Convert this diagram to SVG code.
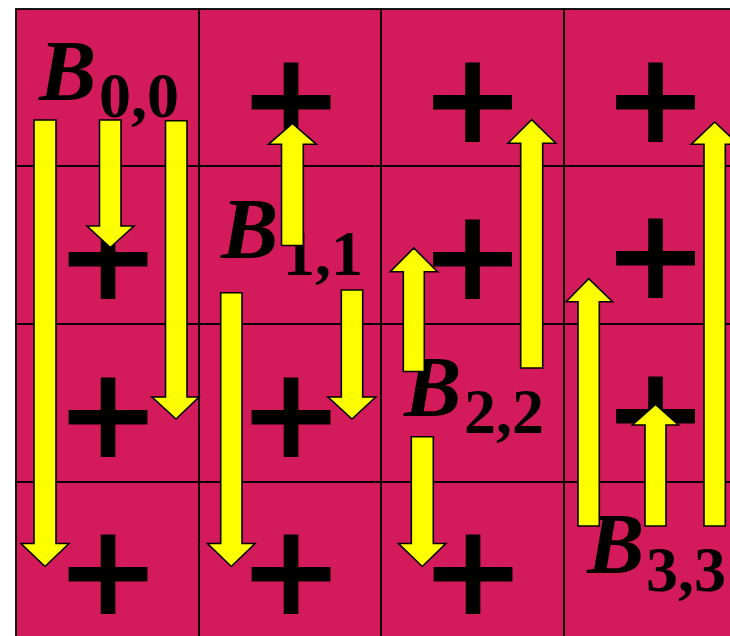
<svg xmlns="http://www.w3.org/2000/svg" width="730" height="636" viewBox="0 0 730 636">
<style>
.cell{fill:#D31A5B;stroke:#000;stroke-width:1.8}
.plus{font-family:"DejaVu Sans",sans-serif;font-weight:bold;font-size:126px;fill:#000;text-anchor:middle}
.bl{font-family:"Liberation Serif","Times New Roman",serif;font-weight:bold;font-style:italic;font-size:86px;fill:#000}
.sub{font-family:"Liberation Serif","Times New Roman",serif;font-weight:bold;font-size:64px;fill:#000}
.arr{fill:#FFFF00;stroke:#000;stroke-width:1.6;stroke-linejoin:miter}
</style>
<rect x="0" y="0" width="730" height="636" fill="#fff"/>
<g id="cells">
<g id="c00"><rect class="cell" x="16" y="9" width="183" height="157"/><text class="bl" x="39" y="100">B</text><text class="sub" x="99" y="117">0,0</text></g>
<g id="c10"><rect class="cell" x="199" y="9" width="182" height="157"/><text class="plus" x="291" y="141.5">+</text></g>
<g id="c20"><rect class="cell" x="381" y="9" width="183" height="157"/><text class="plus" x="472.5" y="141.5">+</text></g>
<g id="c30"><rect class="cell" x="564" y="9" width="183" height="157"/><text class="plus" x="655.5" y="141.5">+</text></g>
<g id="c01"><rect class="cell" x="16" y="166" width="183" height="158"/><text class="plus" x="108" y="299">+</text></g>
<g id="c11"><rect class="cell" x="199" y="166" width="182" height="158"/><text class="bl" x="221" y="258">B</text><text class="sub" x="283" y="275">1,1</text></g>
<g id="c21"><rect class="cell" x="381" y="166" width="183" height="158"/><text class="plus" x="472.5" y="299">+</text></g>
<g id="c31"><rect class="cell" x="564" y="166" width="183" height="158"/><text class="plus" x="655.5" y="298">+</text></g>
<g id="c02"><rect class="cell" x="16" y="324" width="183" height="158"/><text class="plus" x="108" y="457">+</text></g>
<g id="c12"><rect class="cell" x="199" y="324" width="182" height="158"/><text class="plus" x="291" y="457">+</text></g>
<g id="c22"><rect class="cell" x="381" y="324" width="183" height="158"/><text class="bl" x="404" y="416">B</text><text class="sub" x="464" y="432.7">2,2</text></g>
<g id="c32"><rect class="cell" x="564" y="324" width="183" height="158"/><text class="plus" x="655.5" y="456">+</text></g>
<g id="c03"><rect class="cell" x="16" y="482" width="183" height="160"/><text class="plus" x="108" y="614">+</text></g>
<g id="c13"><rect class="cell" x="199" y="482" width="182" height="160"/><text class="plus" x="291" y="613.5">+</text></g>
<g id="c23"><rect class="cell" x="381" y="482" width="183" height="160"/><text class="plus" x="473" y="614">+</text></g>
<g id="c33"><rect class="cell" x="564" y="482" width="183" height="160"/><text class="bl" x="587" y="573">B</text><text class="sub" x="646" y="590.7">3,3</text></g>
</g>
<g id="connectors">
<polygon class="arr" points="34,120 56,120 56,543.5 69,543.5 45,566.5 21,543.5 34,543.5"/>
<polygon class="arr" points="99.5,120 121,120 121,226 134,226 110.3,247.5 87,226 99.5,226"/>
<polygon class="arr" points="165.5,120.7 187,120.7 187,397 199,397 176,419 152,397 165.5,397"/>
<polygon class="arr" points="281.5,245.5 303.3,245.5 303.3,144.3 316.5,144.3 292.4,123.5 268.5,144.3 281.5,144.3"/>
<polygon class="arr" points="220.7,292.7 242,292.7 242,543.5 255,543.5 231.3,566.5 207.5,543.5 220.7,543.5"/>
<polygon class="arr" points="341.3,290 362.7,290 362.7,397 375.7,397 352,419 328,397 341.3,397"/>
<polygon class="arr" points="403.3,371.5 424.3,371.5 424.3,271.7 437.5,271.7 413.8,248 390.2,271.7 403.3,271.7"/>
<polygon class="arr" points="520.7,368 542.7,368 542.7,143.3 555.8,143.3 531.7,119.7 508,143.3 520.7,143.3"/>
<polygon class="arr" points="411.3,436.7 433.3,436.7 433.3,543.5 445.8,543.5 422.3,566.5 398.5,543.5 411.3,543.5"/>
<polygon class="arr" points="578,526 599.3,526 599.3,301.7 612.5,301.7 588.7,278.7 566.2,301.7 578,301.7"/>
<polygon class="arr" points="704,526 725.3,526 725.3,144.3 738.5,144.3 714.7,122 691.2,144.3 704,144.3"/>
<polygon class="arr" points="645,526 666,526 666,425 678.5,425 655.5,404.3 632.3,425 645,425"/>
</g>
</svg>
